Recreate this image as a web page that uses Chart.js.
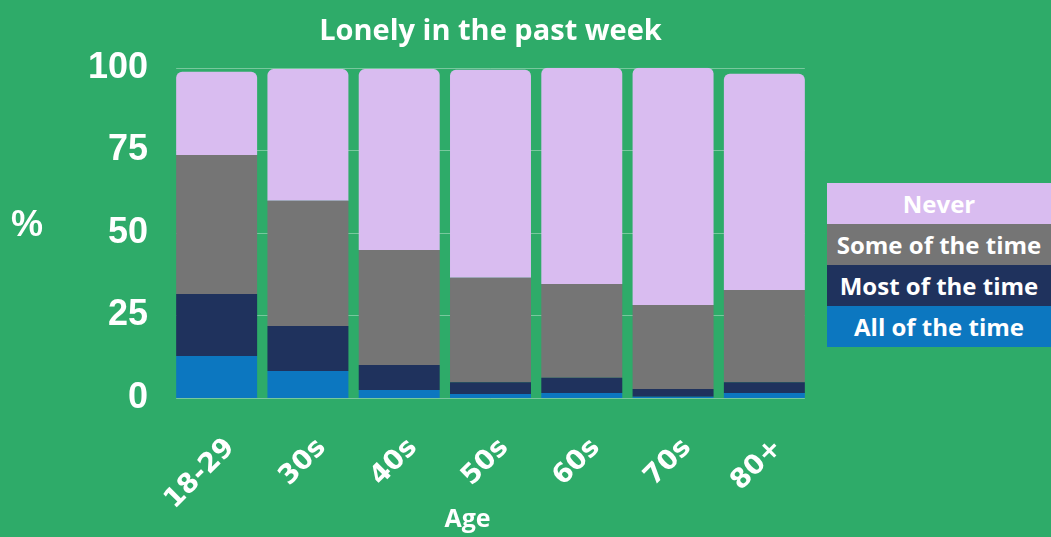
<!DOCTYPE html>
<html>
<head>
<meta charset="utf-8">
<script src="https://cdn.jsdelivr.net/npm/chart.js@4"></script>
<style>
  body { margin: 0; background: #2eab69; }
  #wrap { position: relative; width: 1051px; height: 537px; }
  #legend { position: absolute; left: 827px; top: 183px; width: 224px; }
  #legend div {
    font: bold 24px "Open Sans", sans-serif;
    height: 41px; line-height: 41px; text-align: center; color: #fff;
  }
</style>
</head>
<body>
<div id="wrap">
  <canvas id="chart"></canvas>
  <div id="legend"></div>
</div>
<script>
const ages = ["18-29", "30s", "40s", "50s", "60s", "70s", "80+"];
const allOfTheTime = [12.7, 8.2, 2.4, 1.2, 1.5, 0.4, 1.5];
const mostOfTheTime = [18.8, 13.6, 7.6, 3.6, 4.6, 2.3, 3.3];
const someOfTheTime = [42.1, 37.9, 34.8, 31.6, 28.4, 25.5, 27.9];
const never = [25.2, 39.9, 54.8, 63.0, 65.5, 71.8, 65.5];
const yTicks = [0, 25, 50, 75, 100];

const white = "#ffffff";

// gridlines only as wide as the row of bars
const barGrid = {
  id: "barGrid",
  beforeDatasetsDraw(chart) {
    const ctx = chart.ctx;
    const y = chart.scales.y;
    const bars = chart.getDatasetMeta(0).data;
    const first = bars[0], last = bars[bars.length - 1];
    const x0 = first.x - first.width / 2;
    const x1 = last.x + last.width / 2;
    ctx.save();
    ctx.strokeStyle = "rgba(255,255,255,0.35)";
    ctx.lineWidth = 1;
    yTicks.forEach((v) => {
      const py = Math.round(y.getPixelForValue(v)) + 0.5;
      ctx.beginPath();
      ctx.moveTo(x0, py);
      ctx.lineTo(x1, py);
      ctx.stroke();
    });
    ctx.restore();
  }
};

// extra text: "%" beside the y axis and "Age" under the x labels
const sideLabels = {
  id: "sideLabels",
  afterDraw(chart) {
    const ctx = chart.ctx;
    const area = chart.chartArea;
    ctx.save();
    ctx.fillStyle = white;
    ctx.textAlign = "center";
    ctx.textBaseline = "middle";
    ctx.font = "bold 36px 'Liberation Sans', Arial, sans-serif";
    ctx.fillText("%", 27, (area.top + area.bottom) / 2 - 7);
    ctx.font = "bold 25px 'Open Sans', sans-serif";
    ctx.fillText("Age", (area.left + area.right) / 2 - 23, chart.height - 17);
    ctx.restore();
  }
};

const ctx = document.getElementById("chart").getContext("2d");
const chart = new Chart(ctx, {
  type: "bar",
  data: {
    labels: ages,
    datasets: [
      { label: "All of the time", data: allOfTheTime, backgroundColor: "#0c77c0" },
      { label: "Most of the time", data: mostOfTheTime, backgroundColor: "#1f325d" },
      { label: "Some of the time", data: someOfTheTime, backgroundColor: "#757575" },
      { label: "Never", data: never, backgroundColor: "#d9bcf0",
        borderRadius: { topLeft: 6, topRight: 6, bottomLeft: 0, bottomRight: 0 } }
    ]
  },
  options: {
    responsive: true,
    maintainAspectRatio: false,
    animation: false,
    categoryPercentage: 1,
    barPercentage: 0.887,
    layout: { padding: { right: 241 } },
    plugins: {
      legend: { display: false },
      tooltip: { enabled: false },
      title: {
        display: true,
        text: "Lonely in the past week",
        color: white,
        fullSize: false,
        font: { family: "'Open Sans', sans-serif", size: 29, weight: "bold" },
        padding: { top: 14, bottom: 19 }
      }
    },
    scales: {
      x: {
        stacked: true,
        grid: { display: false },
        border: { display: false },
        ticks: {
          color: white,
          minRotation: 45,
          maxRotation: 45,
          padding: 26,
          labelOffset: 14,
          font: { family: "'DejaVu Sans', sans-serif", size: 27, weight: "bold" }
        },
        afterFit(scale) { scale.height = 139; }
      },
      y: {
        stacked: true,
        min: 0,
        max: 100,
        afterBuildTicks(scale) { scale.ticks = yTicks.map(v => ({ value: v })); },
        grid: { display: false, drawTicks: false },
        border: { display: false },
        ticks: {
          color: white,
          padding: 23,
          font: { family: "'Liberation Sans', Arial, sans-serif", size: 36, weight: "bold" }
        },
        afterFit(scale) { scale.width = 171; }
      }
    }
  },
  plugins: [barGrid, sideLabels]
});

// legend blocks, top to bottom as in the stack
const legend = document.getElementById("legend");
chart.data.datasets.slice().reverse().forEach((ds) => {
  const item = document.createElement("div");
  item.innerText = ds.label;
  item.style.background = ds.backgroundColor;
  legend.appendChild(item);
});
</script>
</body>
</html>
